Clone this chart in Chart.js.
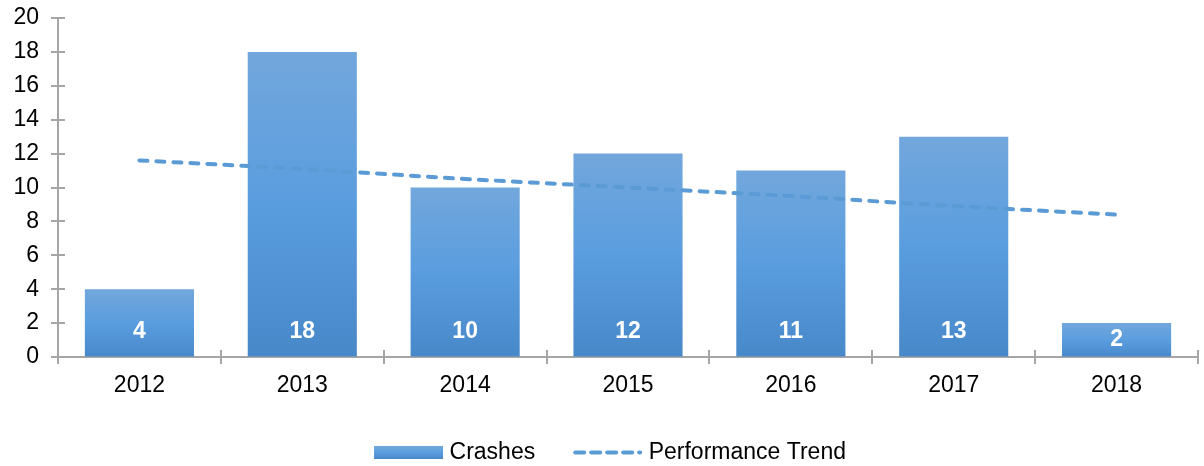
<!DOCTYPE html>
<html>
<head>
<meta charset="utf-8">
<script src="https://cdn.jsdelivr.net/npm/chart.js@4/dist/chart.umd.min.js"></script>
<style>
  html, body { margin: 0; padding: 0; background: #fff; }
</style>
</head>
<body>
<canvas id="chart" width="1204" height="466"></canvas>
<script>
// Data
const years = ["2012", "2013", "2014", "2015", "2016", "2017", "2018"];
const crashes = [4, 18, 10, 12, 11, 13, 2];
const trend = [11.6, 11.1, 10.5, 10.0, 9.5, 8.9, 8.4];
const yMin = 0, yMax = 20, yStep = 2;

const axisColor = "#a6a6a6";
const lineColor = "#5b9bd5";
const fontFamily = "'Liberation Sans', Arial, sans-serif";
const legendShift = 11;

function makeGradient(ctx, top, bottom) {
  const g = ctx.createLinearGradient(0, top, 0, bottom);
  g.addColorStop(0, "#72a7dc");
  g.addColorStop(0.5, "#5a9ddf");
  g.addColorStop(1, "#4788c9");
  return g;
}

// each bar gets its own light-top / dark-bottom gradient
function barFill(context) {
  const chart = context.chart;
  if (!chart.chartArea || context.type !== "data") return "#5b9dde";
  const y = chart.scales.y;
  return makeGradient(chart.ctx, y.getPixelForValue(context.raw), y.getPixelForValue(0));
}

// tick marks that cross both axes
const axisTicks = {
  id: "axisTicks",
  afterDatasetsDraw(chart) {
    const { ctx, scales: { x, y } } = chart;
    ctx.save();
    ctx.strokeStyle = axisColor;
    ctx.lineWidth = 2;
    ctx.beginPath();
    y.ticks.forEach(t => {
      const py = Math.round(y.getPixelForValue(t.value));
      ctx.moveTo(x.left - 7, py);
      ctx.lineTo(x.left + 7, py);
    });
    const step = x.width / years.length;
    for (let i = 0; i <= years.length; i++) {
      const px = Math.round(x.left + i * step);
      ctx.moveTo(px, y.bottom - 7);
      ctx.lineTo(px, y.bottom + 7);
    }
    ctx.stroke();
    ctx.restore();
  }
};

// white value labels near the bottom of each bar
const barLabels = {
  id: "barLabels",
  afterDatasetsDraw(chart) {
    const { ctx } = chart;
    const meta = chart.getDatasetMeta(1);
    ctx.save();
    ctx.fillStyle = "#ffffff";
    ctx.font = "bold 23px " + fontFamily;
    ctx.textAlign = "center";
    ctx.textBaseline = "middle";
    meta.data.forEach((bar, i) => {
      const ly = Math.max(bar.base - 25, (bar.y + bar.base) / 2);
      ctx.fillText(String(crashes[i]), bar.x, ly);
    });
    ctx.restore();
  }
};

// move the legend a bit right, and draw its swatches (gradient box, dashed line)
const legendSwatches = {
  id: "legendSwatches",
  afterLayout(chart) {
    if (!chart.legend) return;
    chart.legend.left += legendShift;
    chart.legend.right += legendShift;
  },
  afterDraw(chart) {
    const boxes = chart.legend && chart.legend.legendHitBoxes;
    if (!boxes || boxes.length < 2) return;
    const { ctx } = chart;
    const w = 69, h = 13;
    ctx.save();
    let b = boxes[0];
    let cy = b.top + b.height / 2;
    ctx.fillStyle = makeGradient(ctx, cy - h / 2, cy + h / 2);
    ctx.fillRect(b.left, cy - h / 2, w, h);
    b = boxes[1];
    cy = b.top + b.height / 2;
    ctx.strokeStyle = lineColor;
    ctx.lineWidth = 4;
    ctx.lineCap = "round";
    ctx.setLineDash([9, 7]);
    ctx.beginPath();
    ctx.moveTo(b.left + 2, cy);
    ctx.lineTo(b.left + w - 2, cy);
    ctx.stroke();
    ctx.restore();
  }
};

new Chart(document.getElementById("chart"), {
  data: {
    labels: years,
    datasets: [
      {
        type: "line",
        label: "Performance Trend",
        data: trend,
        borderColor: lineColor,
        backgroundColor: lineColor,
        borderWidth: 4,
        borderDash: [8, 9],
        borderCapStyle: "round",
        pointRadius: 0,
        fill: false,
        tension: 0,
        order: 0
      },
      {
        type: "bar",
        label: "Crashes",
        data: crashes,
        backgroundColor: barFill,
        borderWidth: 0,
        categoryPercentage: 1,
        barPercentage: 0.67,
        order: 1
      }
    ]
  },
  options: {
    responsive: false,
    animation: false,
    layout: { padding: { top: 18, right: 6, left: 0, bottom: -8 } },
    scales: {
      x: {
        grid: { display: false, drawTicks: false },
        border: { display: true, color: axisColor, width: 2 },
        ticks: { color: "#000", font: { family: fontFamily, size: 23 }, padding: 15 },
        afterFit(scale) { scale.height = 46; }
      },
      y: {
        min: yMin,
        max: yMax,
        grid: { display: true, drawOnChartArea: false, drawTicks: true, tickLength: 19, color: "rgba(0,0,0,0)" },
        border: { display: true, color: axisColor, width: 2 },
        ticks: { stepSize: yStep, color: "#000", font: { family: fontFamily, size: 23 }, padding: 0 },
        afterFit(scale) { scale.width = 58; }
      }
    },
    plugins: {
      tooltip: { enabled: false },
      legend: {
        position: "bottom",
        labels: {
          color: "#000",
          font: { family: fontFamily, size: 23 },
          usePointStyle: true,
          pointStyleWidth: 64,
          boxHeight: 13,
          padding: 38,
          generateLabels(chart) {
            const items = Chart.defaults.plugins.legend.labels.generateLabels(chart);
            // bar first, trend second; swatches drawn by legendSwatches
            items.sort((a, b) => b.datasetIndex - a.datasetIndex);
            items.forEach(item => {
              item.fillStyle = "rgba(0,0,0,0)";
              item.strokeStyle = "rgba(0,0,0,0)";
              item.lineWidth = 0;
              item.pointStyle = "rect";
            });
            return items;
          }
        }
      }
    }
  },
  plugins: [axisTicks, barLabels, legendSwatches]
});
</script>
</body>
</html>
